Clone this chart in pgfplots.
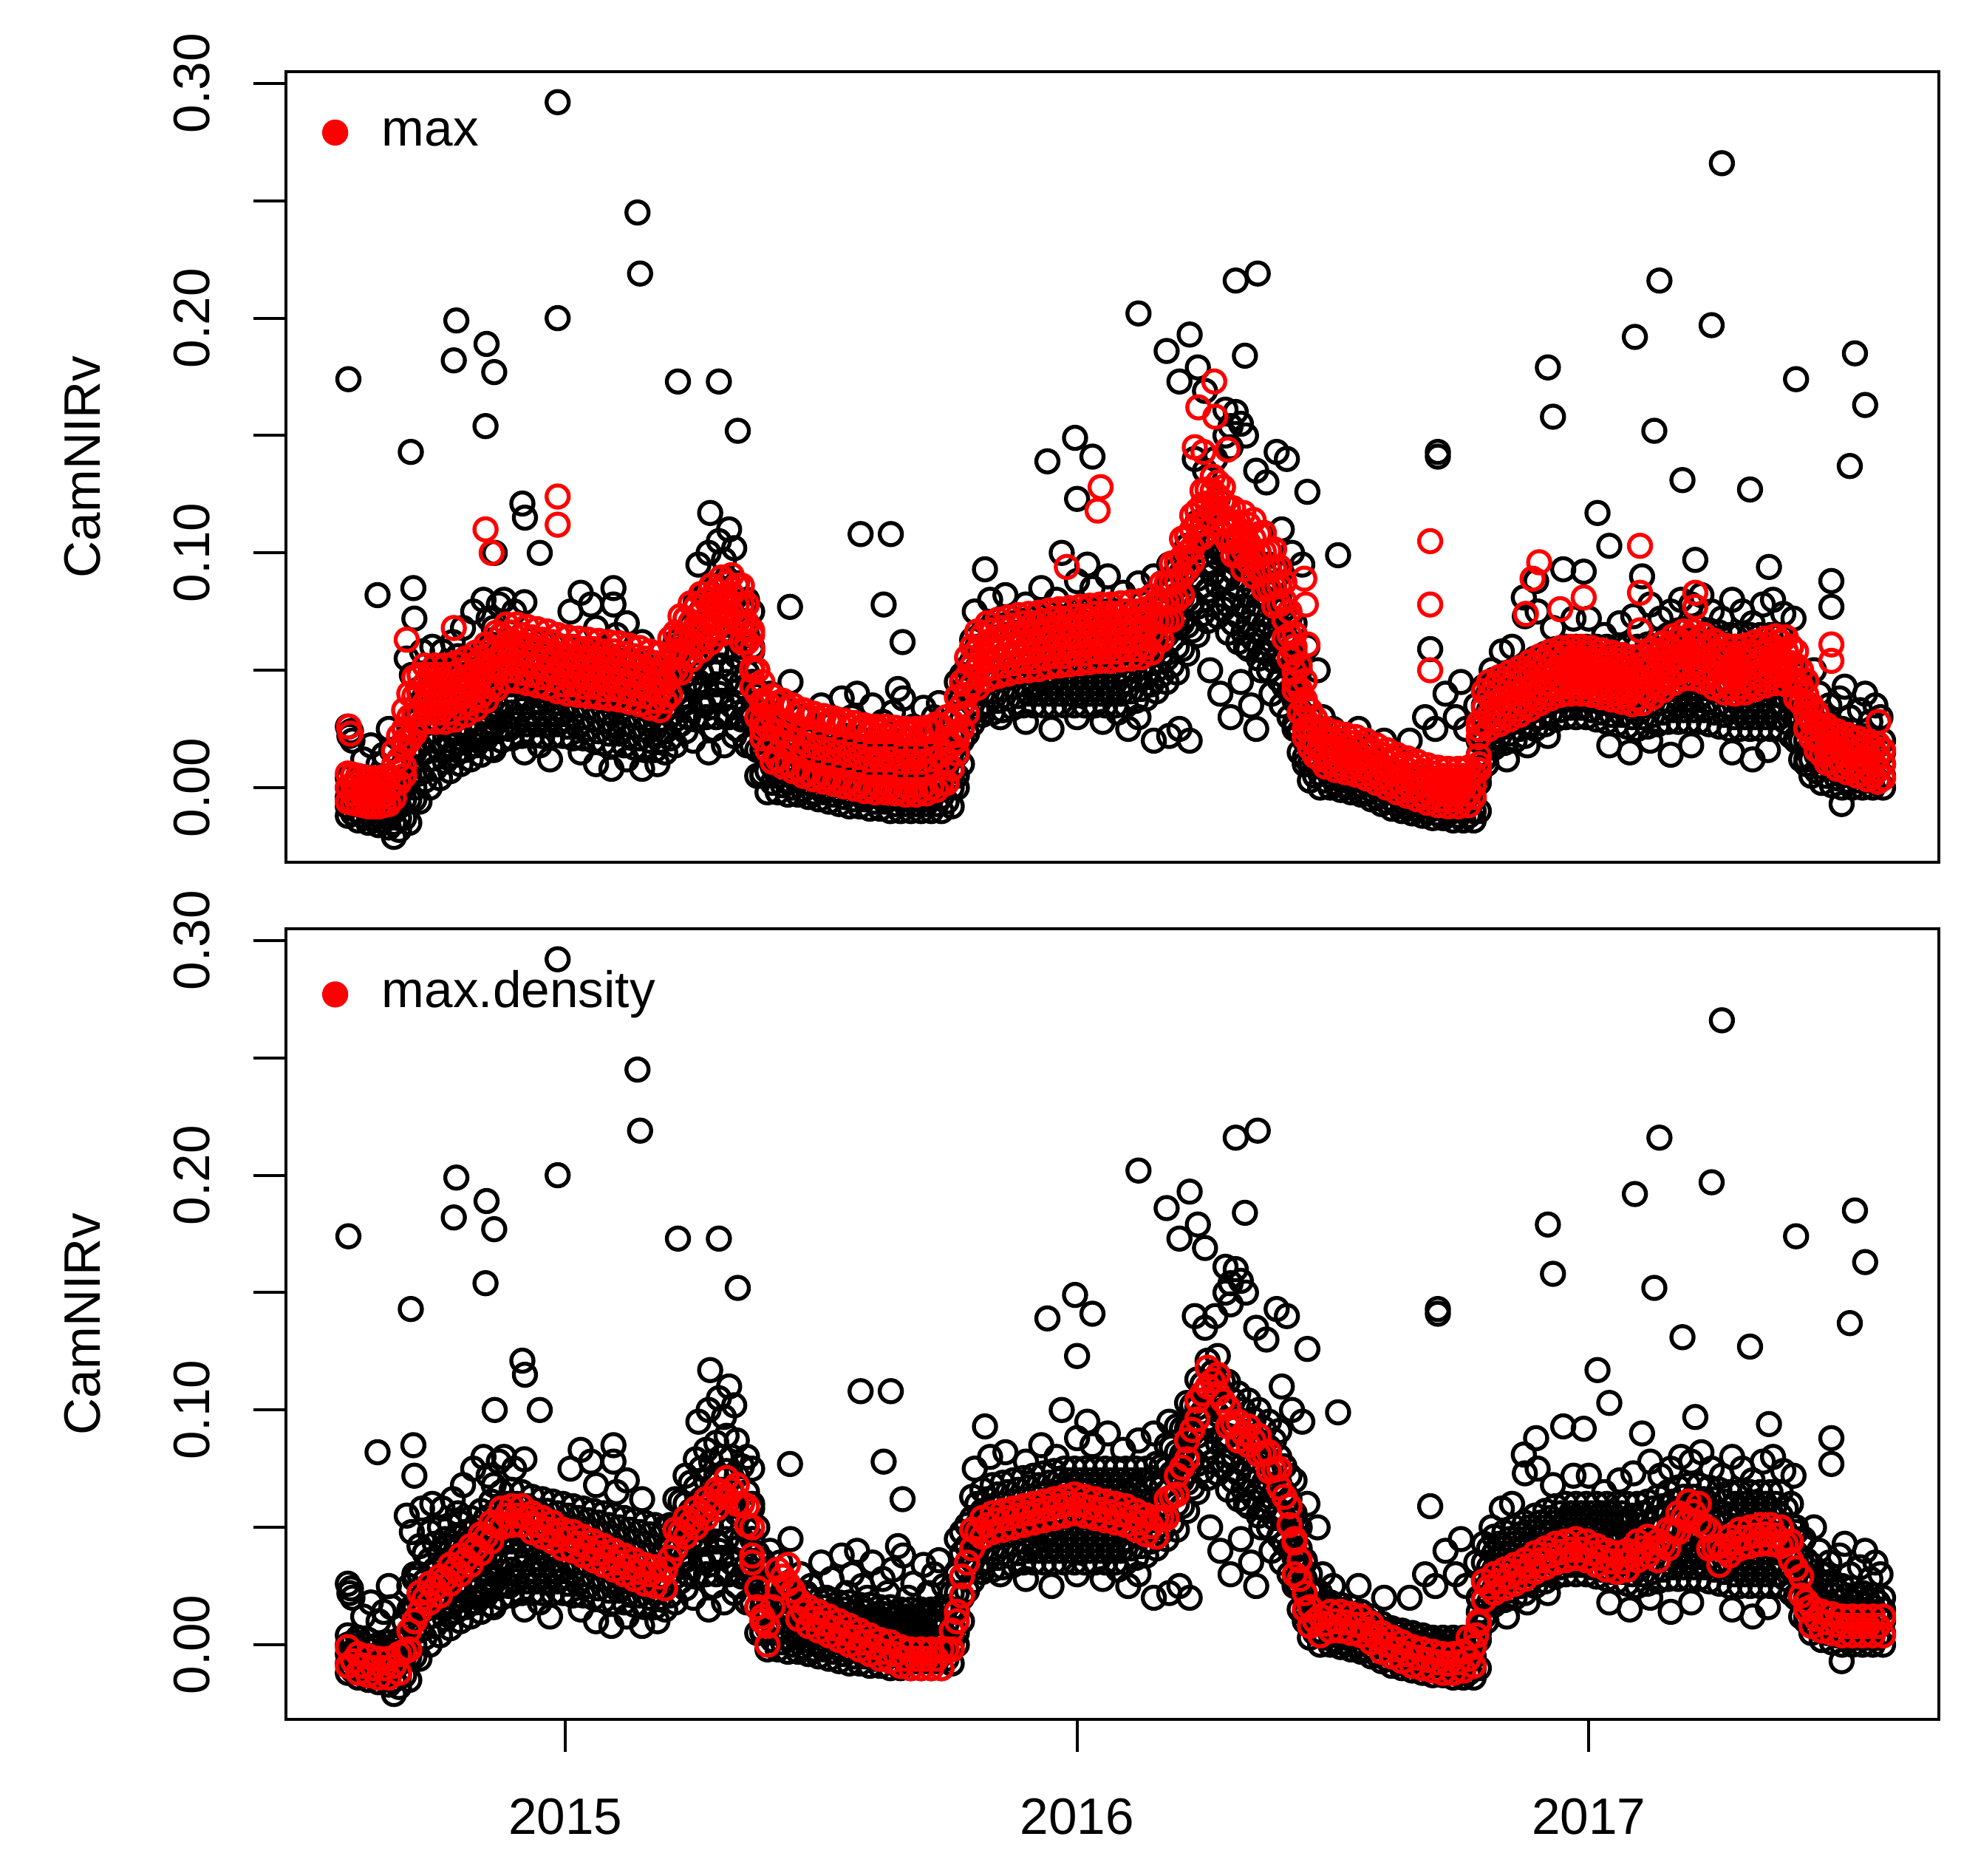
\documentclass[border=0pt]{standalone}
\usepackage{fontspec}
\setmainfont{Liberation Sans}
\usepackage{pgfplots}
\usepackage{pgfplotstable}
\pgfplotsset{compat=1.18}

\pgfplotstableread{
x k1 k2 k3 k4 k5 m1 m2 m3 d1 d2
2014.575 -0.012 -0.008 -0.004 0.000 0.004 -0.006 0.000 0.006 -0.009 -0.001
2014.595 -0.014 -0.010 -0.005 -0.001 0.003 -0.007 -0.001 0.005 -0.012 -0.004
2014.615 -0.015 -0.011 -0.007 -0.002 0.002 -0.008 -0.002 0.004 -0.013 -0.005
2014.635 -0.016 -0.012 -0.008 -0.004 0.000 -0.008 -0.002 0.004 -0.014 -0.006
2014.655 -0.017 -0.013 -0.008 -0.004 0.001 -0.007 -0.001 0.005 -0.014 -0.006
2014.675 -0.018 -0.013 -0.008 -0.003 0.002 0.002 0.012 0.022 -0.012 -0.004
2014.695 -0.015 -0.005 0.005 0.015 0.025 0.020 0.030 0.040 -0.002 0.006
2014.715 -0.006 0.006 0.018 0.030 0.042 0.032 0.040 0.048 0.014 0.022
2014.735 0.000 0.012 0.024 0.036 0.048 0.032 0.040 0.048 0.018 0.026
2014.755 0.004 0.016 0.027 0.039 0.050 0.032 0.040 0.048 0.021 0.029
2014.775 0.007 0.018 0.029 0.040 0.051 0.032 0.040 0.048 0.026 0.034
2014.795 0.010 0.021 0.031 0.042 0.052 0.034 0.042 0.050 0.030 0.038
2014.815 0.012 0.023 0.033 0.044 0.054 0.036 0.044 0.052 0.034 0.042
2014.835 0.014 0.025 0.036 0.046 0.057 0.039 0.047 0.055 0.039 0.047
2014.855 0.017 0.028 0.039 0.050 0.061 0.043 0.051 0.059 0.044 0.052
2014.875 0.020 0.031 0.043 0.054 0.065 0.049 0.057 0.065 0.050 0.058
2014.895 0.021 0.032 0.044 0.055 0.066 0.050 0.058 0.066 0.051 0.059
2014.915 0.022 0.033 0.044 0.054 0.065 0.049 0.057 0.065 0.051 0.059
2014.935 0.022 0.032 0.043 0.053 0.063 0.048 0.056 0.064 0.048 0.056
2014.955 0.022 0.032 0.042 0.052 0.062 0.047 0.055 0.063 0.046 0.054
2014.975 0.022 0.032 0.041 0.051 0.061 0.046 0.054 0.062 0.044 0.052
2014.995 0.022 0.032 0.041 0.051 0.060 0.044 0.052 0.060 0.041 0.049
2015.015 0.021 0.031 0.040 0.050 0.059 0.044 0.052 0.060 0.040 0.048
2015.035 0.021 0.030 0.040 0.049 0.058 0.043 0.051 0.059 0.038 0.046
2015.055 0.020 0.029 0.039 0.048 0.057 0.043 0.051 0.059 0.036 0.044
2015.075 0.019 0.028 0.038 0.047 0.056 0.042 0.050 0.058 0.034 0.042
2015.095 0.018 0.027 0.037 0.046 0.055 0.042 0.050 0.058 0.032 0.040
2015.115 0.018 0.027 0.036 0.045 0.054 0.041 0.049 0.057 0.030 0.038
2015.135 0.017 0.026 0.035 0.044 0.053 0.040 0.048 0.056 0.028 0.036
2015.155 0.016 0.025 0.034 0.043 0.052 0.039 0.047 0.055 0.026 0.034
2015.175 0.016 0.025 0.034 0.042 0.051 0.037 0.045 0.053 0.025 0.033
2015.195 0.015 0.024 0.033 0.041 0.050 0.037 0.045 0.053 0.024 0.032
2015.215 0.018 0.029 0.040 0.051 0.062 0.050 0.058 0.066 0.041 0.049
2015.235 0.024 0.036 0.048 0.060 0.072 0.056 0.064 0.072 0.046 0.054
2015.255 0.029 0.042 0.054 0.067 0.079 0.061 0.069 0.077 0.050 0.058
2015.275 0.030 0.043 0.057 0.070 0.083 0.064 0.072 0.080 0.054 0.062
2015.295 0.030 0.044 0.058 0.072 0.086 0.068 0.076 0.084 0.058 0.066
2015.315 0.030 0.045 0.060 0.074 0.089 0.071 0.079 0.087 0.063 0.071
2015.335 0.025 0.041 0.056 0.072 0.087 0.070 0.078 0.086 0.060 0.068
2015.355 0.018 0.034 0.049 0.065 0.080 0.062 0.070 0.078 0.051 0.059
2015.375 0.005 0.016 0.028 0.039 0.050 0.030 0.040 0.050 0.016 0.024
2015.395 -0.002 0.007 0.015 0.024 0.032 0.016 0.026 0.036 0.000 0.008
2015.415 -0.002 0.005 0.011 0.018 0.025 0.012 0.024 0.036 0.024 0.032
2015.435 -0.003 0.003 0.010 0.016 0.022 0.010 0.022 0.034 0.026 0.034
2015.455 -0.003 0.003 0.009 0.014 0.020 0.008 0.020 0.032 0.011 0.019
2015.475 -0.004 0.002 0.008 0.014 0.020 0.006 0.018 0.030 0.008 0.016
2015.495 -0.005 0.001 0.007 0.013 0.019 0.005 0.017 0.029 0.006 0.014
2015.515 -0.006 0.000 0.007 0.013 0.019 0.004 0.016 0.028 0.004 0.012
2015.535 -0.007 -0.001 0.006 0.012 0.018 0.003 0.015 0.027 0.002 0.010
2015.555 -0.008 -0.002 0.005 0.011 0.018 0.002 0.014 0.026 0.000 0.008
2015.575 -0.008 -0.002 0.005 0.011 0.017 0.001 0.013 0.025 -0.002 0.006
2015.595 -0.009 -0.003 0.004 0.010 0.017 0.000 0.012 0.024 -0.004 0.004
2015.615 -0.009 -0.003 0.004 0.010 0.016 0.000 0.012 0.024 -0.006 0.002
2015.635 -0.010 -0.004 0.003 0.009 0.016 0.000 0.012 0.024 -0.007 0.001
2015.655 -0.010 -0.004 0.003 0.009 0.015 -0.001 0.011 0.023 -0.009 -0.001
2015.675 -0.010 -0.004 0.003 0.009 0.015 -0.001 0.011 0.023 -0.010 -0.002
2015.695 -0.010 -0.004 0.003 0.009 0.015 -0.001 0.011 0.023 -0.010 -0.002
2015.715 -0.010 -0.004 0.003 0.009 0.015 0.000 0.012 0.024 -0.010 -0.002
2015.735 -0.010 -0.004 0.003 0.010 0.016 0.002 0.014 0.026 -0.010 -0.002
2015.755 -0.008 0.000 0.007 0.015 0.022 0.008 0.018 0.028 -0.002 0.006
2015.775 0.010 0.020 0.029 0.039 0.048 0.025 0.035 0.045 0.021 0.029
2015.795 0.027 0.036 0.045 0.054 0.063 0.044 0.052 0.060 0.041 0.049
2015.815 0.031 0.040 0.049 0.057 0.066 0.049 0.057 0.065 0.046 0.054
2015.835 0.032 0.041 0.050 0.059 0.068 0.051 0.059 0.067 0.048 0.056
2015.855 0.033 0.042 0.051 0.060 0.069 0.052 0.060 0.068 0.049 0.057
2015.875 0.034 0.043 0.052 0.061 0.070 0.053 0.061 0.069 0.050 0.058
2015.895 0.035 0.044 0.053 0.062 0.071 0.054 0.062 0.070 0.051 0.059
2015.915 0.035 0.044 0.054 0.063 0.072 0.054 0.062 0.070 0.052 0.060
2015.935 0.035 0.045 0.054 0.064 0.073 0.055 0.063 0.071 0.053 0.061
2015.955 0.035 0.045 0.055 0.064 0.074 0.056 0.064 0.072 0.054 0.062
2015.975 0.035 0.045 0.055 0.065 0.075 0.056 0.064 0.072 0.055 0.063
2015.995 0.035 0.045 0.055 0.065 0.075 0.057 0.065 0.073 0.056 0.064
2016.015 0.035 0.045 0.055 0.065 0.075 0.057 0.065 0.073 0.055 0.063
2016.035 0.035 0.045 0.055 0.065 0.075 0.058 0.066 0.074 0.054 0.062
2016.055 0.035 0.045 0.055 0.065 0.075 0.058 0.066 0.074 0.053 0.061
2016.075 0.035 0.045 0.055 0.065 0.075 0.058 0.066 0.074 0.052 0.060
2016.095 0.035 0.045 0.055 0.065 0.075 0.059 0.067 0.075 0.051 0.059
2016.115 0.037 0.047 0.056 0.066 0.075 0.059 0.067 0.075 0.049 0.057
2016.135 0.038 0.047 0.057 0.066 0.075 0.060 0.068 0.076 0.047 0.055
2016.155 0.041 0.050 0.059 0.068 0.077 0.063 0.071 0.079 0.046 0.054
2016.175 0.045 0.055 0.065 0.075 0.085 0.071 0.079 0.087 0.054 0.062
2016.195 0.049 0.060 0.071 0.082 0.093 0.080 0.088 0.096 0.064 0.072
2016.215 0.057 0.069 0.080 0.092 0.103 0.093 0.100 0.107 0.079 0.087
2016.235 0.065 0.077 0.089 0.101 0.113 0.106 0.112 0.118 0.096 0.104
2016.255 0.071 0.084 0.096 0.109 0.121 0.115 0.121 0.127 0.110 0.118
2016.275 0.073 0.086 0.098 0.111 0.123 0.118 0.124 0.130 0.107 0.115
2016.295 0.066 0.078 0.089 0.101 0.112 0.105 0.112 0.119 0.093 0.101
2016.315 0.062 0.073 0.085 0.096 0.107 0.099 0.106 0.113 0.087 0.095
2016.335 0.059 0.070 0.082 0.093 0.104 0.096 0.104 0.112 0.085 0.093
2016.355 0.055 0.066 0.078 0.089 0.100 0.092 0.100 0.108 0.081 0.089
2016.375 0.050 0.061 0.073 0.084 0.095 0.085 0.093 0.101 0.074 0.082
2016.395 0.046 0.057 0.069 0.080 0.091 0.078 0.086 0.094 0.067 0.075
2016.415 0.030 0.041 0.051 0.062 0.072 0.055 0.065 0.075 0.051 0.059
2016.435 0.015 0.024 0.033 0.041 0.050 0.032 0.042 0.052 0.028 0.036
2016.455 0.003 0.010 0.017 0.023 0.030 0.017 0.025 0.033 0.008 0.016
2016.475 0.000 0.006 0.011 0.017 0.022 0.012 0.018 0.024 0.004 0.012
2016.495 0.000 0.005 0.009 0.014 0.018 0.011 0.016 0.021 0.006 0.014
2016.515 -0.001 0.004 0.008 0.013 0.017 0.010 0.015 0.020 0.006 0.014
2016.535 -0.002 0.003 0.007 0.012 0.016 0.009 0.014 0.019 0.005 0.013
2016.555 -0.003 0.001 0.006 0.010 0.014 0.008 0.013 0.018 0.004 0.012
2016.575 -0.005 -0.001 0.004 0.008 0.012 0.006 0.011 0.016 0.001 0.009
2016.595 -0.007 -0.003 0.001 0.005 0.009 0.004 0.009 0.014 -0.003 0.005
2016.615 -0.009 -0.005 -0.001 0.003 0.007 0.002 0.007 0.012 -0.005 0.003
2016.635 -0.010 -0.006 -0.002 0.002 0.006 0.000 0.005 0.010 -0.007 0.001
2016.655 -0.011 -0.007 -0.003 0.001 0.005 -0.001 0.004 0.009 -0.009 -0.001
2016.675 -0.012 -0.008 -0.004 0.000 0.004 -0.003 0.002 0.007 -0.010 -0.002
2016.695 -0.013 -0.009 -0.005 -0.001 0.003 -0.004 0.001 0.006 -0.011 -0.003
2016.715 -0.013 -0.009 -0.005 -0.001 0.003 -0.005 0.000 0.005 -0.012 -0.004
2016.735 -0.014 -0.010 -0.006 -0.001 0.003 -0.005 0.000 0.005 -0.012 -0.004
2016.755 -0.014 -0.010 -0.006 -0.001 0.003 -0.005 0.000 0.005 -0.011 -0.003
2016.775 -0.014 -0.010 -0.005 -0.001 0.004 -0.004 0.001 0.006 -0.009 -0.001
2016.795 0.012 0.020 0.028 0.035 0.043 0.027 0.034 0.041 0.019 0.027
2016.815 0.017 0.024 0.032 0.039 0.046 0.029 0.036 0.043 0.022 0.030
2016.835 0.019 0.026 0.034 0.041 0.048 0.031 0.038 0.045 0.024 0.032
2016.855 0.020 0.028 0.035 0.043 0.050 0.033 0.040 0.047 0.026 0.034
2016.875 0.022 0.030 0.037 0.045 0.052 0.035 0.042 0.049 0.028 0.036
2016.895 0.025 0.033 0.040 0.048 0.055 0.038 0.045 0.052 0.031 0.039
2016.915 0.027 0.035 0.042 0.050 0.057 0.040 0.047 0.054 0.033 0.041
2016.935 0.029 0.037 0.044 0.052 0.059 0.042 0.049 0.056 0.035 0.043
2016.955 0.030 0.038 0.045 0.053 0.060 0.043 0.050 0.057 0.036 0.044
2016.975 0.030 0.038 0.045 0.053 0.060 0.043 0.050 0.057 0.037 0.045
2016.995 0.030 0.038 0.045 0.053 0.060 0.043 0.050 0.057 0.036 0.044
2017.015 0.029 0.037 0.045 0.052 0.060 0.042 0.049 0.056 0.034 0.042
2017.035 0.028 0.036 0.044 0.052 0.060 0.041 0.048 0.055 0.032 0.040
2017.055 0.027 0.035 0.044 0.052 0.060 0.040 0.047 0.054 0.031 0.039
2017.075 0.026 0.035 0.043 0.052 0.060 0.039 0.046 0.053 0.032 0.040
2017.095 0.025 0.034 0.043 0.051 0.060 0.038 0.045 0.052 0.036 0.044
2017.115 0.026 0.035 0.044 0.052 0.061 0.040 0.047 0.054 0.038 0.046
2017.135 0.027 0.036 0.045 0.054 0.063 0.043 0.050 0.057 0.036 0.044
2017.155 0.028 0.037 0.047 0.056 0.065 0.046 0.053 0.060 0.041 0.049
2017.175 0.028 0.038 0.048 0.057 0.067 0.049 0.056 0.063 0.048 0.056
2017.195 0.028 0.038 0.048 0.058 0.068 0.050 0.057 0.064 0.053 0.061
2017.215 0.028 0.038 0.048 0.058 0.068 0.049 0.056 0.063 0.052 0.060
2017.235 0.027 0.037 0.047 0.057 0.067 0.047 0.054 0.061 0.041 0.049
2017.255 0.026 0.036 0.046 0.056 0.066 0.044 0.051 0.058 0.034 0.042
2017.275 0.025 0.035 0.045 0.055 0.065 0.043 0.050 0.057 0.038 0.046
2017.295 0.025 0.035 0.045 0.055 0.065 0.043 0.050 0.057 0.041 0.049
2017.315 0.025 0.035 0.045 0.055 0.065 0.044 0.051 0.058 0.042 0.050
2017.335 0.025 0.035 0.045 0.055 0.065 0.046 0.053 0.060 0.043 0.051
2017.355 0.025 0.035 0.045 0.055 0.065 0.047 0.054 0.061 0.043 0.051
2017.375 0.025 0.035 0.045 0.055 0.065 0.048 0.055 0.062 0.042 0.050
2017.395 0.022 0.032 0.041 0.051 0.060 0.046 0.053 0.060 0.036 0.044
2017.415 0.012 0.020 0.029 0.037 0.045 0.036 0.043 0.050 0.021 0.029
2017.435 0.005 0.012 0.020 0.027 0.034 0.021 0.028 0.035 0.008 0.016
2017.455 0.002 0.009 0.016 0.023 0.030 0.014 0.020 0.026 0.006 0.014
2017.475 0.001 0.008 0.014 0.021 0.027 0.011 0.017 0.023 0.005 0.013
2017.495 0.000 0.006 0.013 0.019 0.025 0.009 0.015 0.021 0.004 0.012
2017.515 0.000 0.006 0.012 0.018 0.024 0.008 0.014 0.020 0.004 0.012
2017.535 0.000 0.006 0.011 0.017 0.022 0.006 0.012 0.018 0.004 0.012
2017.555 0.000 0.005 0.011 0.016 0.021 0.005 0.011 0.017 0.004 0.012
2017.575 0.000 0.005 0.010 0.015 0.020 0.004 0.010 0.016 0.004 0.012
}\band

\pgfplotstableread{
x j1 j2 j3 j4 n1 n2 n3 n4 e1
2014.585 -0.011 -0.007 -0.003 0.001 -0.0065 -0.0025 0.0015 0.0055 -0.007
2014.605 -0.012 -0.008 -0.004 0.000 -0.0075 -0.0035 0.0005 0.0045 -0.009
2014.625 -0.013 -0.009 -0.005 -0.001 -0.008 -0.004 0.000 0.004 -0.010
2014.645 -0.014 -0.010 -0.006 -0.002 -0.0075 -0.0035 0.0005 0.0045 -0.010
2014.665 -0.015 -0.010 -0.006 -0.001 -0.0045 0.0015 0.0095 0.0155 -0.009
2014.685 -0.013 -0.005 0.002 0.010 0.009 0.017 0.025 0.033 -0.003
2014.705 -0.005 0.006 0.017 0.028 0.023 0.031 0.039 0.047 0.010
2014.725 0.003 0.015 0.027 0.039 0.028 0.036 0.044 0.052 0.020
2014.745 0.008 0.020 0.032 0.043 0.028 0.036 0.044 0.052 0.024
2014.765 0.011 0.022 0.034 0.045 0.028 0.036 0.044 0.052 0.028
2014.785 0.014 0.025 0.035 0.046 0.029 0.037 0.045 0.053 0.032
2014.805 0.016 0.027 0.037 0.048 0.031 0.039 0.047 0.055 0.036
2014.825 0.018 0.029 0.040 0.050 0.0335 0.0415 0.0495 0.0575 0.041
2014.845 0.021 0.032 0.043 0.054 0.037 0.045 0.053 0.061 0.046
2014.865 0.024 0.035 0.046 0.057 0.042 0.050 0.058 0.066 0.051
2014.885 0.026 0.037 0.049 0.060 0.0455 0.0535 0.0615 0.0695 0.055
2014.905 0.027 0.038 0.049 0.060 0.0455 0.0535 0.0615 0.0695 0.055
2014.925 0.027 0.038 0.048 0.059 0.0445 0.0525 0.0605 0.0685 0.054
2014.945 0.027 0.037 0.047 0.057 0.0435 0.0515 0.0595 0.0675 0.051
2014.965 0.027 0.037 0.047 0.057 0.0425 0.0505 0.0585 0.0665 0.049
2014.985 0.027 0.036 0.046 0.056 0.041 0.049 0.057 0.065 0.047
2015.005 0.026 0.036 0.045 0.055 0.040 0.048 0.056 0.064 0.045
2015.025 0.026 0.035 0.044 0.054 0.0395 0.0475 0.0555 0.0635 0.043
2015.045 0.025 0.034 0.044 0.053 0.039 0.047 0.055 0.063 0.041
2015.065 0.024 0.033 0.043 0.052 0.0385 0.0465 0.0545 0.0625 0.039
2015.085 0.023 0.032 0.042 0.051 0.038 0.046 0.054 0.062 0.037
2015.105 0.023 0.032 0.041 0.050 0.0375 0.0455 0.0535 0.0615 0.035
2015.125 0.022 0.031 0.040 0.049 0.0365 0.0445 0.0525 0.0605 0.033
2015.145 0.021 0.030 0.039 0.048 0.0355 0.0435 0.0515 0.0595 0.031
2015.165 0.020 0.029 0.038 0.047 0.034 0.042 0.050 0.058 0.030
2015.185 0.020 0.029 0.037 0.046 0.033 0.041 0.049 0.057 0.029
2015.205 0.021 0.031 0.041 0.051 0.0395 0.0475 0.0555 0.0635 0.037
2015.225 0.027 0.038 0.050 0.061 0.049 0.057 0.065 0.073 0.048
2015.245 0.033 0.045 0.057 0.069 0.0545 0.0625 0.0705 0.0785 0.052
2015.265 0.036 0.049 0.062 0.075 0.0585 0.0665 0.0745 0.0825 0.056
2015.285 0.037 0.050 0.064 0.078 0.062 0.070 0.078 0.086 0.060
2015.305 0.037 0.052 0.066 0.080 0.0655 0.0735 0.0815 0.0895 0.065
2015.325 0.035 0.050 0.065 0.080 0.0665 0.0745 0.0825 0.0905 0.066
2015.345 0.029 0.045 0.060 0.076 0.062 0.070 0.078 0.086 0.060
2015.365 0.018 0.032 0.045 0.058 0.043 0.051 0.059 0.067 0.038
2015.385 0.006 0.016 0.026 0.036 0.021 0.029 0.037 0.045 0.012
2015.405 0.002 0.009 0.017 0.025 0.011 0.020 0.030 0.039 0.016
2015.425 0.001 0.007 0.014 0.020 0.009 0.018 0.028 0.037 0.029
2015.445 0.000 0.006 0.012 0.018 0.007 0.016 0.026 0.035 0.023
2015.465 -0.001 0.005 0.011 0.017 0.005 0.014 0.024 0.033 0.014
2015.485 -0.002 0.004 0.010 0.016 0.0035 0.0125 0.0225 0.0315 0.011
2015.505 -0.002 0.004 0.010 0.016 0.0025 0.0115 0.0215 0.0305 0.009
2015.525 -0.003 0.003 0.009 0.015 0.0015 0.0105 0.0205 0.0295 0.007
2015.545 -0.004 0.002 0.008 0.015 0.0005 0.0095 0.0195 0.0285 0.005
2015.565 -0.005 0.002 0.008 0.014 -0.0005 0.0085 0.0185 0.0275 0.003
2015.585 -0.005 0.001 0.007 0.014 -0.0015 0.0075 0.0175 0.0265 0.001
2015.605 -0.006 0.001 0.007 0.013 -0.002 0.007 0.017 0.026 -0.001
2015.625 -0.006 0.000 0.006 0.013 -0.002 0.007 0.017 0.026 -0.003
2015.645 -0.007 0.000 0.006 0.012 -0.0025 0.0065 0.0165 0.0255 -0.004
2015.665 -0.007 -0.001 0.006 0.012 -0.003 0.006 0.016 0.025 -0.006
2015.685 -0.007 -0.001 0.006 0.012 -0.003 0.006 0.016 0.025 -0.006
2015.705 -0.007 -0.001 0.006 0.012 -0.0025 0.0065 0.0165 0.0255 -0.006
2015.725 -0.007 0.000 0.006 0.012 -0.001 0.008 0.018 0.027 -0.006
2015.745 -0.006 0.002 0.009 0.016 0.002 0.011 0.021 0.030 -0.002
2015.765 0.005 0.014 0.022 0.031 0.0145 0.0225 0.0305 0.0385 0.014
2015.785 0.023 0.032 0.042 0.051 0.0315 0.0395 0.0475 0.0555 0.035
2015.805 0.033 0.042 0.051 0.060 0.0425 0.0505 0.0585 0.0665 0.048
2015.825 0.036 0.045 0.054 0.062 0.046 0.054 0.062 0.070 0.051
2015.845 0.037 0.046 0.055 0.064 0.0475 0.0555 0.0635 0.0715 0.053
2015.865 0.038 0.047 0.056 0.065 0.0485 0.0565 0.0645 0.0725 0.054
2015.885 0.039 0.048 0.057 0.066 0.0495 0.0575 0.0655 0.0735 0.055
2015.905 0.040 0.049 0.058 0.067 0.050 0.058 0.066 0.074 0.056
2015.925 0.040 0.049 0.058 0.068 0.0505 0.0585 0.0665 0.0745 0.057
2015.945 0.040 0.049 0.059 0.069 0.0515 0.0595 0.0675 0.0755 0.058
2015.965 0.040 0.050 0.060 0.070 0.052 0.060 0.068 0.076 0.059
2015.985 0.040 0.050 0.060 0.070 0.0525 0.0605 0.0685 0.0765 0.060
2016.005 0.040 0.050 0.060 0.070 0.053 0.061 0.069 0.077 0.0595
2016.025 0.040 0.050 0.060 0.070 0.0535 0.0615 0.0695 0.0775 0.0585
2016.045 0.040 0.050 0.060 0.070 0.054 0.062 0.070 0.078 0.0575
2016.065 0.040 0.050 0.060 0.070 0.054 0.062 0.070 0.078 0.0565
2016.085 0.040 0.050 0.060 0.070 0.0545 0.0625 0.0705 0.0785 0.0555
2016.105 0.041 0.051 0.060 0.070 0.055 0.063 0.071 0.079 0.054
2016.125 0.042 0.052 0.061 0.070 0.0555 0.0635 0.0715 0.0795 0.052
2016.145 0.044 0.053 0.062 0.071 0.0575 0.0655 0.0735 0.0815 0.0505
2016.165 0.048 0.057 0.067 0.076 0.063 0.071 0.079 0.087 0.054
2016.185 0.052 0.063 0.073 0.084 0.0715 0.0795 0.0875 0.0955 0.063
2016.205 0.059 0.070 0.081 0.092 0.082 0.090 0.098 0.106 0.0755
2016.225 0.067 0.079 0.090 0.102 0.096 0.102 0.110 0.116 0.0915
2016.245 0.074 0.086 0.099 0.111 0.1065 0.1125 0.1205 0.1265 0.107
2016.265 0.078 0.091 0.103 0.116 0.1125 0.1185 0.1265 0.1325 0.1125
2016.285 0.076 0.088 0.100 0.112 0.108 0.114 0.122 0.128 0.104
2016.305 0.070 0.081 0.092 0.104 0.099 0.105 0.113 0.119 0.094
2016.325 0.066 0.077 0.089 0.100 0.093 0.101 0.109 0.117 0.090
2016.345 0.063 0.074 0.085 0.096 0.090 0.098 0.106 0.114 0.087
2016.365 0.058 0.069 0.081 0.092 0.0845 0.0925 0.1005 0.1085 0.0815
2016.385 0.054 0.065 0.076 0.087 0.0775 0.0855 0.0935 0.1015 0.0745
2016.405 0.043 0.054 0.065 0.076 0.0635 0.0715 0.0795 0.0875 0.063
2016.425 0.027 0.037 0.047 0.056 0.0415 0.0495 0.0575 0.0655 0.0435
2016.445 0.013 0.021 0.028 0.036 0.0215 0.0295 0.0375 0.0455 0.022
2016.465 0.005 0.011 0.017 0.023 0.0135 0.0185 0.0245 0.0295 0.010
2016.485 0.003 0.008 0.013 0.018 0.009 0.014 0.020 0.025 0.009
2016.505 0.002 0.006 0.011 0.015 0.0075 0.0125 0.0185 0.0235 0.010
2016.525 0.001 0.005 0.010 0.014 0.0065 0.0115 0.0175 0.0225 0.0095
2016.545 0.000 0.004 0.008 0.013 0.0055 0.0105 0.0165 0.0215 0.0085
2016.565 -0.002 0.002 0.007 0.011 0.004 0.009 0.015 0.020 0.0065
2016.585 -0.004 0.000 0.004 0.008 0.002 0.007 0.013 0.018 0.003
2016.605 -0.006 -0.002 0.002 0.006 0.000 0.005 0.011 0.016 0.000
2016.625 -0.007 -0.003 0.001 0.005 -0.002 0.003 0.009 0.014 -0.002
2016.645 -0.008 -0.004 0.000 0.004 -0.0035 0.0015 0.0075 0.0125 -0.004
2016.665 -0.009 -0.005 -0.001 0.003 -0.005 0.000 0.006 0.011 -0.0055
2016.685 -0.010 -0.006 -0.002 0.002 -0.0065 -0.0015 0.0045 0.0095 -0.0065
2016.705 -0.011 -0.007 -0.003 0.001 -0.0075 -0.0025 0.0035 0.0085 -0.0075
2016.725 -0.011 -0.007 -0.003 0.001 -0.008 -0.003 0.003 0.008 -0.008
2016.745 -0.012 -0.008 -0.003 0.001 -0.008 -0.003 0.003 0.008 -0.0075
2016.765 -0.012 -0.007 -0.003 0.001 -0.0075 -0.0025 0.0035 0.0085 -0.006
2016.785 0.002 0.008 0.014 0.020 0.0075 0.0135 0.0215 0.0275 0.009
2016.805 0.018 0.026 0.033 0.041 0.025 0.031 0.039 0.045 0.0245
2016.825 0.022 0.029 0.036 0.043 0.027 0.033 0.041 0.047 0.027
2016.845 0.023 0.031 0.038 0.045 0.029 0.035 0.043 0.049 0.029
2016.865 0.025 0.032 0.040 0.047 0.031 0.037 0.045 0.051 0.031
2016.885 0.027 0.035 0.042 0.050 0.0335 0.0395 0.0475 0.0535 0.0335
2016.905 0.030 0.037 0.045 0.052 0.036 0.042 0.050 0.056 0.036
2016.925 0.032 0.039 0.047 0.054 0.038 0.044 0.052 0.058 0.038
2016.945 0.033 0.041 0.048 0.056 0.0395 0.0455 0.0535 0.0595 0.0395
2016.965 0.034 0.041 0.049 0.056 0.040 0.046 0.054 0.060 0.0405
2016.985 0.034 0.041 0.049 0.056 0.040 0.046 0.054 0.060 0.0405
2017.005 0.033 0.041 0.049 0.056 0.0395 0.0455 0.0535 0.0595 0.039
2017.025 0.032 0.040 0.048 0.056 0.0385 0.0445 0.0525 0.0585 0.037
2017.045 0.031 0.039 0.047 0.056 0.0375 0.0435 0.0515 0.0575 0.0355
2017.065 0.031 0.039 0.047 0.056 0.0365 0.0425 0.0505 0.0565 0.0355
2017.085 0.030 0.038 0.047 0.055 0.0355 0.0415 0.0495 0.0555 0.038
2017.105 0.030 0.039 0.047 0.056 0.036 0.042 0.050 0.056 0.041
2017.125 0.031 0.040 0.049 0.058 0.0385 0.0445 0.0525 0.0585 0.041
2017.145 0.032 0.041 0.050 0.059 0.0415 0.0475 0.0555 0.0615 0.0425
2017.165 0.033 0.042 0.052 0.061 0.0445 0.0505 0.0585 0.0645 0.0485
2017.185 0.033 0.043 0.053 0.063 0.0465 0.0525 0.0605 0.0665 0.0545
2017.205 0.033 0.043 0.053 0.063 0.0465 0.0525 0.0605 0.0665 0.0565
2017.225 0.033 0.043 0.053 0.062 0.045 0.051 0.059 0.065 0.0505
2017.245 0.032 0.042 0.052 0.062 0.0425 0.0485 0.0565 0.0625 0.0415
2017.265 0.031 0.041 0.051 0.061 0.0405 0.0465 0.0545 0.0605 0.040
2017.285 0.030 0.040 0.050 0.060 0.040 0.046 0.054 0.060 0.0435
2017.305 0.030 0.040 0.050 0.060 0.0405 0.0465 0.0545 0.0605 0.0455
2017.325 0.030 0.040 0.050 0.060 0.042 0.048 0.056 0.062 0.0465
2017.345 0.030 0.040 0.050 0.060 0.0435 0.0495 0.0575 0.0635 0.047
2017.365 0.030 0.040 0.050 0.060 0.0445 0.0505 0.0585 0.0645 0.0465
2017.385 0.028 0.038 0.048 0.058 0.044 0.050 0.058 0.064 0.043
2017.405 0.021 0.030 0.039 0.048 0.038 0.044 0.052 0.058 0.0325
2017.425 0.012 0.020 0.028 0.036 0.0255 0.0315 0.0395 0.0455 0.0185
2017.445 0.007 0.014 0.021 0.028 0.016 0.021 0.027 0.032 0.011
2017.465 0.005 0.012 0.018 0.025 0.0105 0.0155 0.0215 0.0265 0.0095
2017.485 0.004 0.010 0.016 0.023 0.008 0.013 0.019 0.024 0.0085
2017.505 0.003 0.009 0.015 0.021 0.0065 0.0115 0.0175 0.0225 0.008
2017.525 0.003 0.009 0.014 0.020 0.005 0.010 0.016 0.021 0.008
2017.545 0.003 0.008 0.013 0.019 0.0035 0.0085 0.0145 0.0195 0.008
2017.565 0.003 0.008 0.013 0.018 0.0025 0.0075 0.0135 0.0185 0.008
}\bandb

\pgfplotstableread{
x y
2014.575 0.026
2014.578 0.022
2014.581 0.024
2014.584 0.020
2014.576 0.174
2014.605 0.012
2014.620 0.018
2014.635 0.010
2014.645 0.014
2014.655 0.025
2014.660 0.016
2014.665 -0.021
2014.633 0.082
2014.698 0.143
2014.703 0.085
2014.705 0.072
2014.705 0.000
2014.705 0.015
2014.705 0.030
2014.690 0.055
2014.700 0.048
2014.720 0.058
2014.740 0.060
2014.760 0.058
2014.790 0.056
2014.780 0.062
2014.782 0.182
2014.787 0.199
2014.800 0.068
2014.820 0.075
2014.840 0.080
2014.850 0.072
2014.860 0.068
2014.870 0.078
2014.880 0.080
2014.900 0.075
2014.920 0.079
2014.844 0.154
2014.846 0.189
2014.861 0.177
2014.862 0.100
2014.916 0.121
2014.921 0.115
2014.950 0.100
2014.985 0.292
2014.985 0.200
2014.830 0.020
2014.860 0.016
2014.890 0.025
2014.920 0.015
2014.950 0.018
2014.970 0.012
2015.010 0.075
2015.030 0.083
2015.050 0.078
2015.060 0.068
2015.094 0.085
2015.094 0.078
2015.100 0.065
2015.120 0.070
2015.150 0.062
2015.030 0.015
2015.060 0.010
2015.090 0.008
2015.120 0.012
2015.150 0.008
2015.180 0.010
2015.141 0.245
2015.146 0.219
2015.220 0.173
2015.240 0.030
2015.250 0.020
2015.260 0.045
2015.270 0.035
2015.280 0.015
2015.290 0.025
2015.300 0.040
2015.310 0.018
2015.320 0.030
2015.330 0.022
2015.260 0.095
2015.280 0.100
2015.283 0.117
2015.300 0.105
2015.310 0.097
2015.320 0.110
2015.330 0.102
2015.300 0.173
2015.337 0.152
2015.365 0.030
2015.365 0.045
2015.365 0.060
2015.365 0.075
2015.385 0.005
2015.385 0.020
2015.385 0.035
2015.400 0.040
2015.420 0.035
2015.440 0.045
2015.439 0.077
2015.460 0.030
2015.470 0.022
2015.480 0.025
2015.500 0.035
2015.510 0.020
2015.520 0.028
2015.540 0.038
2015.550 0.022
2015.560 0.030
2015.570 0.040
2015.580 0.025
2015.590 0.020
2015.600 0.035
2015.620 0.028
2015.630 0.022
2015.640 0.032
2015.650 0.042
2015.660 0.038
2015.670 0.020
2015.680 0.026
2015.700 0.034
2015.710 0.022
2015.720 0.030
2015.730 0.036
2015.740 0.025
2015.577 0.108
2015.636 0.108
2015.622 0.078
2015.659 0.062
2015.765 0.000
2015.765 0.015
2015.765 0.030
2015.765 0.045
2015.800 0.075
2015.820 0.093
2015.830 0.080
2015.860 0.082
2015.900 0.078
2015.930 0.085
2015.960 0.080
2015.970 0.100
2016.000 0.088
2016.020 0.095
2016.030 0.085
2016.060 0.090
2016.090 0.083
2016.120 0.087
2016.150 0.090
2016.180 0.095
2015.942 0.139
2015.996 0.149
2016.030 0.141
2016.000 0.123
2016.120 0.202
2016.175 0.186
2016.220 0.193
2016.236 0.179
2016.200 0.173
2016.250 0.169
2016.290 0.161
2015.850 0.030
2015.900 0.028
2015.950 0.025
2016.000 0.030
2016.050 0.028
2016.080 0.032
2016.100 0.025
2016.120 0.030
2016.150 0.020
2016.180 0.022
2016.200 0.025
2016.220 0.020
2016.230 0.140
2016.250 0.135
2016.270 0.140
2016.290 0.150
2016.300 0.145
2016.310 0.160
2016.320 0.155
2016.330 0.150
2016.350 0.135
2016.370 0.130
2016.400 0.110
2016.420 0.100
2016.440 0.095
2016.310 0.216
2016.353 0.219
2016.328 0.184
2016.300 0.154
2016.390 0.143
2016.410 0.140
2016.450 0.126
2016.510 0.099
2016.260 0.050
2016.280 0.040
2016.300 0.030
2016.320 0.045
2016.340 0.035
2016.360 0.050
2016.380 0.040
2016.400 0.035
2016.330 0.060
2016.350 0.025
2016.425 0.025
2016.425 0.040
2016.425 0.055
2016.425 0.070
2016.445 0.010
2016.445 0.020
2016.445 0.035
2016.450 0.060
2016.470 0.050
2016.480 0.030
2016.500 0.025
2016.550 0.025
2016.600 0.020
2016.650 0.020
2016.680 0.030
2016.690 0.059
2016.700 0.025
2016.705 0.143
2016.705 0.141
2016.720 0.040
2016.740 0.030
2016.750 0.045
2016.760 0.025
2016.780 0.035
2016.785 -0.010
2016.785 0.005
2016.785 0.020
2016.810 0.050
2016.830 0.058
2016.850 0.060
2016.873 0.081
2016.875 0.073
2016.897 0.088
2016.900 0.075
2016.920 0.179
2016.930 0.158
2016.930 0.068
2016.950 0.093
2016.970 0.072
2016.990 0.092
2016.800 0.010
2016.840 0.012
2016.880 0.018
2016.920 0.022
2017.000 0.072
2017.017 0.117
2017.040 0.103
2017.030 0.065
2017.060 0.070
2017.087 0.073
2017.090 0.192
2017.104 0.090
2017.120 0.078
2017.128 0.152
2017.138 0.216
2017.140 0.072
2017.160 0.075
2017.183 0.131
2017.180 0.080
2017.208 0.097
2017.200 0.078
2017.220 0.082
2017.240 0.197
2017.240 0.075
2017.260 0.266
2017.260 0.072
2017.280 0.080
2017.300 0.075
2017.315 0.127
2017.320 0.070
2017.340 0.078
2017.352 0.094
2017.360 0.080
2017.380 0.074
2017.400 0.072
2017.405 0.174
2017.040 0.018
2017.080 0.015
2017.120 0.020
2017.160 0.014
2017.200 0.018
2017.280 0.015
2017.320 0.012
2017.350 0.016
2017.405 0.020
2017.405 0.035
2017.405 0.050
2017.425 0.010
2017.425 0.020
2017.425 0.030
2017.420 0.045
2017.440 0.050
2017.450 0.040
2017.460 0.030
2017.470 0.035
2017.474 0.088
2017.474 0.077
2017.490 0.038
2017.494 -0.007
2017.500 0.043
2017.510 0.137
2017.510 0.030
2017.520 0.185
2017.530 0.033
2017.540 0.163
2017.540 0.040
2017.550 0.028
2017.560 0.035
2017.570 0.030
}\blk

\pgfplotstableread{
x y
2014.577 0.026
2014.580 0.023
2014.685 0.005
2014.685 0.020
2014.705 0.025
2014.690 0.063
2014.782 0.068
2014.844 0.110
2014.856 0.100
2014.985 0.124
2014.985 0.112
2015.365 0.050
2015.365 0.065
2015.385 0.025
2015.385 0.035
2015.765 0.020
2015.765 0.030
2015.980 0.094
2016.040 0.118
2016.046 0.128
2016.230 0.145
2016.237 0.162
2016.247 0.143
2016.268 0.173
2016.270 0.158
2016.294 0.144
2016.425 0.045
2016.425 0.060
2016.445 0.025
2016.445 0.035
2016.444 0.089
2016.447 0.078
2016.450 0.061
2016.690 0.105
2016.690 0.078
2016.690 0.050
2016.785 0.010
2016.785 0.025
2016.877 0.074
2016.890 0.089
2016.903 0.096
2016.944 0.076
2016.990 0.081
2017.100 0.103
2017.100 0.083
2017.100 0.067
2017.208 0.083
2017.208 0.077
2017.425 0.025
2017.425 0.035
2017.474 0.061
2017.474 0.054
2017.566 0.028
}\redmax

\pgfplotstableread{
x y
2014.705 0.010
2015.365 0.035
2015.365 0.050
2015.385 0.010
2015.765 0.010
2016.425 0.045
2016.425 0.030
2016.445 0.015
2016.765 0.003
2016.780 0.004
2016.785 0.010
2017.425 0.015
}\redden

\pgfplotsset{
  panel/.style={
    scale only axis, width=671.1pt, height=321pt,
    xmin=2014.454, xmax=2017.684, ymin=-0.0318, ymax=0.305,
    axis line style={line width=1.2pt},
    every tick/.style={line width=1.2pt, black},
    tick align=outside, major tick length=13.2pt,
    xtick pos=left, ytick pos=left,
    ytick={0,0.05,0.1,0.15,0.2,0.25,0.3},
    yticklabels={0.00,{},0.10,{},0.20,{},0.30},
    /pgf/number format/assume math mode=true,
    yticklabel style={rotate=90, anchor=south, inner sep=0pt},
    yticklabel shift=17.4pt,
    ylabel={CamNIRv},
    every axis y label/.style={at={(axis description cs:-0.1229,0.5)}, rotate=90, anchor=center},
    legend style={draw=none, fill=none, at={(axis description cs:0.0219,0.9187)}, anchor=west,
      inner sep=0pt, outer sep=0pt, column sep=11.7pt, cells={anchor=base west, inner sep=0pt}},
    legend image code/.code={\fill[red] (5.1pt,5.4pt) circle (5.1pt);},
  },
  bk/.style={only marks, mark=o, black, mark size=4.5pt, mark options={line width=1.6pt}, forget plot},
  rd/.style={only marks, mark=o, red, mark size=4.5pt, mark options={line width=1.6pt}, forget plot},
}

\begin{document}
\fontsize{20.8pt}{25pt}\selectfont
\begin{tikzpicture}
\path[use as bounding box] (-116.1pt,-411.6pt) rectangle (687pt,350.1pt);
\begin{axis}[panel, at={(0,0)}, anchor=south west, xtick=\empty]
\addplot[bk] table[x=x,y=k1]{\band};
\addplot[bk] table[x=x,y=k2]{\band};
\addplot[bk] table[x=x,y=k3]{\band};
\addplot[bk] table[x=x,y=k4]{\band};
\addplot[bk] table[x=x,y=k5]{\band};
\addplot[bk] table[x=x,y=j1]{\bandb};
\addplot[bk] table[x=x,y=j2]{\bandb};
\addplot[bk] table[x=x,y=j3]{\bandb};
\addplot[bk] table[x=x,y=j4]{\bandb};
\addplot[bk] table[x=x,y=y]{\blk};
\addplot[rd] table[x=x,y=m1]{\band};
\addplot[rd] table[x=x,y=m2]{\band};
\addplot[rd] table[x=x,y=m3]{\band};
\addplot[rd] table[x=x,y=n1]{\bandb};
\addplot[rd] table[x=x,y=n2]{\bandb};
\addplot[rd] table[x=x,y=n3]{\bandb};
\addplot[rd] table[x=x,y=n4]{\bandb};
\addplot[rd] table[x=x,y=y]{\redmax};
\addlegendimage{red}
\addlegendentry{max}
\end{axis}
\begin{axis}[panel, at={(0,-348pt)}, anchor=south west,
  xtick={2015,2016,2017}, xticklabels={2015,2016,2017},
  xticklabel style={anchor=north, inner sep=0pt}, xticklabel shift=18.6pt]
\addplot[bk] table[x=x,y=k1]{\band};
\addplot[bk] table[x=x,y=k2]{\band};
\addplot[bk] table[x=x,y=k3]{\band};
\addplot[bk] table[x=x,y=k4]{\band};
\addplot[bk] table[x=x,y=k5]{\band};
\addplot[bk] table[x=x,y=j1]{\bandb};
\addplot[bk] table[x=x,y=j2]{\bandb};
\addplot[bk] table[x=x,y=j3]{\bandb};
\addplot[bk] table[x=x,y=j4]{\bandb};
\addplot[bk] table[x=x,y=y]{\blk};
\addplot[rd] table[x=x,y=d1]{\band};
\addplot[rd] table[x=x,y=d2]{\band};
\addplot[rd] table[x=x,y=e1]{\bandb};
\addplot[rd] table[x=x,y=y]{\redden};
\addlegendimage{red}
\addlegendentry{max.density}
\end{axis}
\end{tikzpicture}
\end{document}
